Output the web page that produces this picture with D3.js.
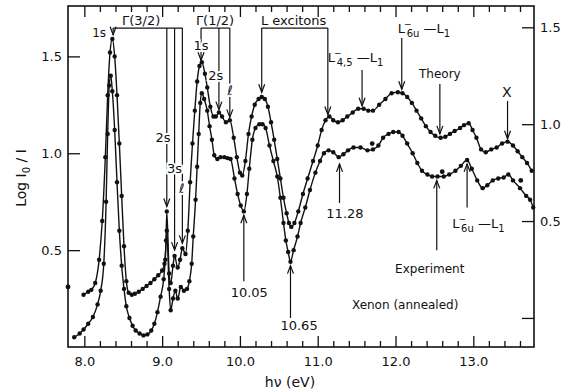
<!DOCTYPE html>
<html>
<head>
<meta charset="utf-8">
<script src="https://cdn.jsdelivr.net/npm/d3@7"></script>
<style>
  body { margin: 0; background: #fff; }
  text { font-family: "DejaVu Sans", sans-serif; fill: #111; }
</style>
</head>
<body>
<div id="chart"></div>
<script>
const width = 568, height = 392;

// upper curve (Theory) : [photon energy eV, log I0/I]
const theoryPts = [
  [7.99,0.27],[8.05,0.285],[8.09,0.295],[8.14,0.33],[8.19,0.45],[8.23,0.65],[8.27,0.98],[8.30,1.30],
  [8.33,1.52],[8.36,1.59],[8.39,1.50],[8.42,1.30],[8.45,1.05],[8.48,0.78],[8.51,0.52],[8.54,0.34],
  [8.57,0.28],[8.61,0.27],[8.65,0.275],[8.70,0.285],[8.75,0.30],[8.80,0.315],[8.85,0.33],[8.90,0.35],
  [8.95,0.37],[9.00,0.395],[9.03,0.43],[9.05,0.55],[9.06,0.70],[9.09,0.38],[9.11,0.33],[9.14,0.42],
  [9.16,0.47],[9.20,0.41],[9.23,0.45],[9.26,0.51],[9.30,0.48],[9.33,0.60],[9.36,0.85],[9.39,1.05],
  [9.42,1.22],[9.45,1.37],[9.48,1.45],[9.51,1.47],[9.55,1.41],[9.58,1.34],[9.62,1.24],[9.66,1.19],
  [9.69,1.19],[9.73,1.21],[9.77,1.19],[9.82,1.16],[9.87,1.17],[9.92,1.08],[9.96,0.98],[10.00,0.90],
  [10.03,0.885],[10.07,0.96],[10.11,1.10],[10.15,1.19],[10.19,1.25],[10.24,1.28],[10.28,1.29],[10.32,1.28],
  [10.36,1.24],[10.40,1.16],[10.44,1.07],[10.48,0.97],[10.52,0.87],[10.56,0.77],[10.60,0.69],[10.63,0.64],
  [10.66,0.62],[10.70,0.64],[10.75,0.70],[10.81,0.79],[10.87,0.87],[10.94,0.96],[11.00,1.04],[11.05,1.12],
  [11.10,1.17],[11.15,1.19],[11.20,1.17],[11.26,1.16],[11.32,1.17],[11.38,1.19],[11.45,1.21],[11.52,1.23],
  [11.59,1.23],[11.65,1.22],[11.71,1.22],[11.79,1.25],[11.87,1.28],[11.95,1.31],[12.03,1.315],[12.09,1.31],
  [12.15,1.29],[12.21,1.26],[12.27,1.22],[12.33,1.18],[12.39,1.14],[12.45,1.11],[12.51,1.09],[12.58,1.08],
  [12.64,1.085],[12.70,1.10],[12.76,1.115],[12.83,1.13],[12.88,1.145],[12.94,1.155],[12.99,1.12],[13.04,1.08],
  [13.10,1.02],[13.16,1.005],[13.23,1.02],[13.30,1.03],[13.37,1.05],[13.44,1.06],[13.51,1.04],[13.57,1.01],
  [13.63,0.98],[13.69,0.95],[13.75,0.91]
];

// lower curve (Experiment)
const experimentPts = [
  [7.87,0.05],[7.94,0.07],[7.99,0.09],[8.05,0.12],[8.11,0.155],[8.17,0.22],[8.21,0.29],[8.25,0.43],
  [8.28,0.75],[8.30,1.10],[8.32,1.35],[8.34,1.40],[8.36,1.32],[8.39,1.12],[8.42,0.85],[8.45,0.60],
  [8.48,0.42],[8.51,0.30],[8.54,0.21],[8.58,0.15],[8.62,0.11],[8.66,0.085],[8.71,0.07],[8.76,0.06],
  [8.81,0.065],[8.86,0.085],[8.90,0.12],[8.94,0.18],[8.98,0.26],[9.02,0.35],[9.04,0.45],[9.06,0.60],
  [9.09,0.30],[9.11,0.19],[9.14,0.25],[9.17,0.29],[9.20,0.25],[9.24,0.31],[9.28,0.29],[9.32,0.30],
  [9.35,0.34],[9.38,0.43],[9.40,0.57],[9.43,0.76],[9.45,0.93],[9.47,1.10],[9.49,1.26],[9.51,1.31],
  [9.54,1.28],[9.58,1.22],[9.61,1.14],[9.64,1.07],[9.67,0.99],[9.71,0.97],[9.75,0.98],[9.80,0.98],
  [9.84,0.975],[9.88,0.97],[9.93,0.87],[9.97,0.79],[10.01,0.73],[10.05,0.70],[10.09,0.79],[10.12,0.92],
  [10.16,1.07],[10.20,1.13],[10.25,1.15],[10.29,1.15],[10.33,1.13],[10.38,1.04],[10.43,0.96],[10.48,0.88],
  [10.52,0.77],[10.56,0.64],[10.59,0.55],[10.62,0.49],[10.65,0.44],[10.69,0.50],[10.74,0.57],[10.78,0.64],
  [10.84,0.72],[10.90,0.81],[10.97,0.90],[11.03,0.96],[11.08,1.00],[11.14,1.015],[11.20,1.005],[11.27,0.98],
  [11.33,0.995],[11.39,1.015],[11.46,1.03],[11.55,1.03],[11.64,1.015],[11.71,1.02],[11.78,1.04],[11.84,1.08],
  [11.91,1.10],[11.97,1.11],[12.04,1.11],[12.09,1.09],[12.15,1.05],[12.22,1.00],[12.28,0.95],[12.34,0.91],
  [12.41,0.89],[12.47,0.88],[12.54,0.88],[12.62,0.88],[12.69,0.89],[12.77,0.91],[12.84,0.935],[12.92,0.965],
  [12.98,0.92],[13.05,0.86],[13.12,0.82],[13.18,0.835],[13.25,0.86],[13.32,0.87],[13.39,0.875],[13.45,0.89],
  [13.51,0.86],[13.60,0.82],[13.68,0.78],[13.73,0.76],[13.77,0.72]
];

// measured points lying off the drawn lines
const loosePts = [[7.79,0.31],[11.70,1.05],[12.60,0.905],[13.61,0.86]];

const majorTicks = [8, 9, 10, 11, 12, 13];
const leftTicks = [0.5, 1.0, 1.5];
const rightTicks = [0, 0.5, 1.0, 1.5];

// bracketed exciton labels along the top
const bracketLevel = 1.646;
const brackets = [
  { label: "Γ(3/2)", at: 8.73, from: 8.37, to: 9.26 },
  { label: "Γ(1/2)", at: 9.68, from: 9.50, to: 9.87 },
  { label: "L excitons", at: 10.69, from: 10.28, to: 11.13 }
];
const bracketLegs = [
  { ev: 8.37, tip: 1.612 },
  { ev: 9.06, tip: 0.725, text: "2s", tx: 9.01, tv: 1.06 },
  { ev: 9.16, tip: 0.50, text: "3s", tx: 9.16, tv: 0.90 },
  { ev: 9.26, tip: 0.535, text: "ℓ", tx: 9.25, tv: 0.795 },
  { ev: 9.50, tip: 1.48, text: "1s", tx: 9.50, tv: 1.533 },
  { ev: 9.73, tip: 1.225, text: "2s", tx: 9.69, tv: 1.378 },
  { ev: 9.87, tip: 1.185, text: "ℓ", tx: 9.87, tv: 1.30 },
  { ev: 10.28, tip: 1.315 },
  { ev: 11.13, tip: 1.20 }
];

// single arrows with their labels
const arrows = [
  { ev: 11.57, from: 1.43, to: 1.245 },
  { ev: 12.08, from: 1.595, to: 1.33 },
  { ev: 12.57, from: 1.357, to: 1.10 },
  { ev: 13.44, from: 1.27, to: 1.075 },
  { ev: 10.05, from: 0.34, to: 0.68 },
  { ev: 10.65, from: 0.15, to: 0.42 },
  { ev: 11.28, from: 0.743, to: 0.945 },
  { ev: 12.53, from: 0.50, to: 0.86 },
  { ev: 12.92, from: 0.72, to: 0.945 }
];
const plainLabels = [
  { text: "1s", ev: 8.19, v: 1.60, anchor: "middle" },
  { text: "Theory", ev: 12.57, v: 1.388, anchor: "middle" },
  { text: "X", ev: 13.43, v: 1.29, anchor: "middle", size: 14 },
  { text: "10.05", ev: 10.12, v: 0.258, anchor: "middle", size: 13 },
  { text: "10.65", ev: 10.76, v: 0.088, anchor: "middle", size: 13 },
  { text: "11.28", ev: 11.35, v: 0.666, anchor: "middle", size: 13 },
  { text: "Experiment", ev: 12.44, v: 0.382, anchor: "middle" },
  { text: "Xenon (annealed)", ev: 11.44, v: 0.196, anchor: "start" }
];
// transition labels: L-bar with subscripts
const transitions = [
  { sub: "4,5", ev: 11.13, v: 1.47 },
  { sub: "6u", ev: 12.03, v: 1.62 },
  { sub: "6u", ev: 12.73, v: 0.614 }
];

const x = d3.scaleLinear().domain([7.79, 13.78]).range([68, 534]);
const y = d3.scaleLinear().domain([0, 1.76]).range([347, 6]);
const yRight = d3.scaleLinear().domain([-0.15, 1.61]).range([347, 6]);

const svg = d3.select("#chart").append("svg")
  .attr("width", width)
  .attr("height", height);

// frame
svg.append("rect")
  .attr("x", 68).attr("y", 6)
  .attr("width", 534 - 68).attr("height", 347 - 6)
  .attr("fill", "none").attr("stroke", "#111").attr("stroke-width", 1.6);

const minorTicks = d3.range(41, 69).filter(i => i % 5).map(i => i / 5);
const fmt = d3.format(".1f");

function styleAxis(g) {
  g.select(".domain").remove();
  g.selectAll("line").attr("stroke", "#111").attr("stroke-width", 1.3);
  g.selectAll("text").attr("font-size", 13).attr("font-family", "DejaVu Sans, sans-serif").attr("fill", "#111");
}

svg.append("g").attr("transform", "translate(0,347)")
  .call(d3.axisBottom(x).tickValues(minorTicks).tickSize(-6).tickSizeOuter(0).tickFormat(""))
  .call(styleAxis);
svg.append("g").attr("transform", "translate(0,347)")
  .call(d3.axisBottom(x).tickValues(majorTicks).tickSize(-11).tickSizeOuter(0).tickPadding(10).tickFormat(fmt))
  .call(styleAxis);
svg.append("g").attr("transform", "translate(0,6)")
  .call(d3.axisTop(x).tickValues(minorTicks).tickSize(-6).tickSizeOuter(0).tickFormat(""))
  .call(styleAxis);
svg.append("g").attr("transform", "translate(0,6)")
  .call(d3.axisTop(x).tickValues(majorTicks).tickSize(-11).tickSizeOuter(0).tickFormat(""))
  .call(styleAxis);
svg.append("g").attr("transform", "translate(68,0)")
  .call(d3.axisLeft(y).tickValues(leftTicks).tickSize(-12).tickSizeOuter(0).tickPadding(6).tickFormat(fmt))
  .call(styleAxis);
svg.append("g").attr("transform", "translate(534,0)")
  .call(d3.axisRight(yRight).tickValues(rightTicks).tickSize(-12).tickSizeOuter(0).tickPadding(6)
    .tickFormat(d => d === 0 ? "" : fmt(d)))
  .call(styleAxis);

// axis titles
svg.append("text")
  .attr("x", 290).attr("y", 387)
  .attr("text-anchor", "middle").attr("font-size", 14)
  .text("hν (eV)");
const yTitle = svg.append("text")
  .attr("transform", "translate(26,178) rotate(-90)")
  .attr("text-anchor", "middle").attr("font-size", 14);
yTitle.append("tspan").text("Log I");
yTitle.append("tspan").attr("font-size", 10).attr("dy", 4).text("0");
yTitle.append("tspan").attr("dy", -4).text(" / I");

// curves
const line = d3.line()
  .x(d => x(d[0]))
  .y(d => y(d[1]))
  .curve(d3.curveMonotoneX);

[theoryPts, experimentPts].forEach(pts => {
  svg.append("path")
    .datum(pts)
    .attr("d", line)
    .attr("fill", "none")
    .attr("stroke", "#111")
    .attr("stroke-width", 1.4);
  svg.append("g").selectAll("circle")
    .data(pts)
    .join("circle")
    .attr("cx", d => x(d[0]))
    .attr("cy", d => y(d[1]))
    .attr("r", 2.2)
    .attr("fill", "#111");
});
svg.append("g").selectAll("circle")
  .data(loosePts)
  .join("circle")
  .attr("cx", d => x(d[0]))
  .attr("cy", d => y(d[1]))
  .attr("r", 2.4)
  .attr("fill", "#111");

// annotations
const notes = svg.append("g").attr("stroke", "#111").attr("stroke-width", 1.2).attr("fill", "none");

function drawArrow(ev, vFrom, vTo) {
  const xp = x(ev), y0 = y(vFrom), y1 = y(vTo);
  const dir = Math.sign(y1 - y0);
  notes.append("line").attr("x1", xp).attr("x2", xp).attr("y1", y0).attr("y2", y1);
  notes.append("path").attr("d", `M${xp - 3},${y1 - dir * 8}L${xp},${y1}L${xp + 3},${y1 - dir * 8}`);
}

brackets.forEach(b => {
  notes.append("line")
    .attr("x1", x(b.from)).attr("x2", x(b.to))
    .attr("y1", y(bracketLevel)).attr("y2", y(bracketLevel));
  svg.append("text")
    .attr("x", x(b.at)).attr("y", y(1.66))
    .attr("text-anchor", "middle").attr("font-size", 13)
    .text(b.label);
});
bracketLegs.forEach(l => drawArrow(l.ev, bracketLevel, l.tip));
arrows.forEach(a => drawArrow(a.ev, a.from, a.to));

svg.append("g").selectAll("text")
  .data(bracketLegs.filter(l => l.text))
  .join("text")
  .attr("x", l => x(l.tx)).attr("y", l => y(l.tv))
  .attr("text-anchor", "middle").attr("font-size", 13)
  .attr("stroke", "#fff").attr("stroke-width", 4).attr("paint-order", "stroke")
  .text(l => l.text);

svg.append("g").selectAll("text")
  .data(plainLabels)
  .join("text")
  .attr("x", d => x(d.ev)).attr("y", d => y(d.v))
  .attr("text-anchor", d => d.anchor)
  .attr("font-size", d => d.size || 12)
  .text(d => d.text);

transitions.forEach(t => {
  const tx = svg.append("text")
    .attr("x", x(t.ev)).attr("y", y(t.v))
    .attr("font-size", 13);
  tx.append("tspan").text("L");
  tx.append("tspan").attr("font-size", 9).attr("dy", -6).attr("dx", -1).text("−");
  tx.append("tspan").attr("font-size", 10).attr("dy", 10).attr("dx", -5).text(t.sub);
  tx.append("tspan").attr("dy", -4).text(" —L");
  tx.append("tspan").attr("font-size", 10).attr("dy", 4).text("1");
});
</script>
</body>
</html>
